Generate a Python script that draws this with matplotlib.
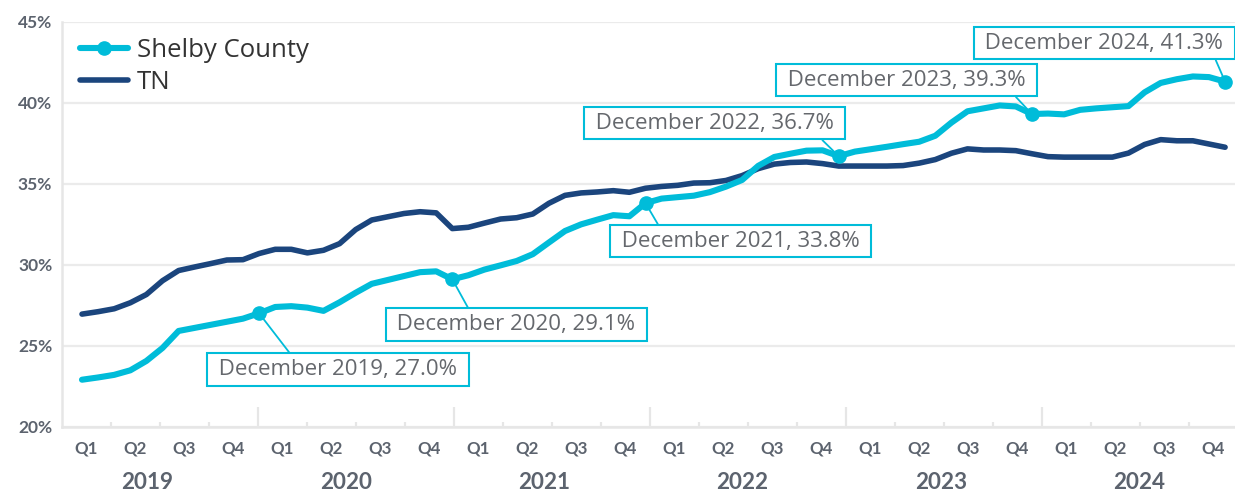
import matplotlib
matplotlib.use("Agg")
import matplotlib.pyplot as plt
from matplotlib.lines import Line2D
from matplotlib.transforms import blended_transform_factory

# ---------------- data ----------------
years = [2019, 2020, 2021, 2022, 2023, 2024]
quarters = ["Q1", "Q2", "Q3", "Q4"]

# monthly values, Jan 2019 .. Dec 2024 (percent)
shelby = [22.90, 23.04, 23.20, 23.48, 24.06, 24.86, 25.91, 26.10, 26.29, 26.48, 26.67, 27.00,
          27.39, 27.44, 27.35, 27.15, 27.68, 28.27, 28.82, 29.06, 29.30, 29.54, 29.59, 29.10,
          29.35, 29.70, 29.96, 30.23, 30.65, 31.37, 32.08, 32.49, 32.78, 33.06, 32.99, 33.80,
          34.08, 34.17, 34.26, 34.48, 34.82, 35.23, 36.10, 36.65, 36.85, 37.04, 37.06, 36.70,
          36.98, 37.13, 37.28, 37.44, 37.59, 37.96, 38.77, 39.47, 39.65, 39.83, 39.77, 39.30,
          39.33, 39.28, 39.56, 39.65, 39.72, 39.79, 40.64, 41.22, 41.45, 41.62, 41.58, 41.30]

tn = [26.95, 27.10, 27.28, 27.65, 28.16, 29.01, 29.64, 29.86, 30.07, 30.29, 30.31, 30.69,
      30.95, 30.95, 30.73, 30.89, 31.30, 32.17, 32.76, 32.96, 33.16, 33.27, 33.20, 32.23,
      32.31, 32.57, 32.82, 32.90, 33.13, 33.79, 34.28, 34.43, 34.49, 34.57, 34.47, 34.72,
      34.83, 34.90, 35.04, 35.06, 35.20, 35.50, 35.93, 36.21, 36.31, 36.34, 36.24, 36.09,
      36.09, 36.09, 36.09, 36.12, 36.27, 36.49, 36.88, 37.15, 37.08, 37.08, 37.04, 36.85,
      36.67, 36.64, 36.64, 36.64, 36.64, 36.89, 37.42, 37.72, 37.65, 37.65, 37.45, 37.25]

series_names = ["Shelby County", "TN"]
y_ticks = [20, 25, 30, 35, 40, 45]

# ---------------- style ----------------
CYAN = "#00bcd9"
NAVY = "#1b457d"
GRID = "#ebebeb"
TICKC = "#5c636e"
ANNC = "#65686d"

W, H = 1235, 493
fig = plt.figure(figsize=(W / 100, H / 100), dpi=100)
ax_l, ax_r, ax_t, ax_b = 62, 1235, 21.7, 426.7
ax = fig.add_axes([ax_l / W, 1 - ax_b / H, (ax_r - ax_l) / W, (ax_b - ax_t) / H])

# month index -> pixel mapping used for layout
X0, DX = 82.0, 16.1
def px2u(px):
    return (px - X0) / DX

x = list(range(len(shelby)))
ax.plot(x, tn, color=NAVY, lw=4.0, solid_capstyle="round", solid_joinstyle="round", zorder=3)
ax.plot(x, shelby, color=CYAN, lw=4.4, solid_capstyle="round", solid_joinstyle="round", zorder=4)

ax.set_xlim(px2u(ax_l), px2u(ax_r))
ax.set_ylim(20, 45)

# y axis
ax.set_yticks(y_ticks)
ax.set_yticklabels([f"{v}%" for v in y_ticks], fontfamily="Lato", fontweight="bold",
                   fontsize=12.5, color=TICKC)
ax.tick_params(axis="y", length=0, pad=7)
ax.yaxis.grid(True, color=GRID, lw=1.6)
ax.set_axisbelow(True)

for s in ["top", "right"]:
    ax.spines[s].set_visible(False)
for s in ["left", "bottom"]:
    ax.spines[s].set_color("#e6e6e6")
    ax.spines[s].set_linewidth(1.8)

# x axis: year boundaries (major) and quarter boundaries (minor)
QPX = 49.0
n_q = len(years) * 4
ax.set_xticks([px2u(ax_l + QPX * 4 * k) for k in range(1, len(years))])
ax.set_xticks([px2u(ax_l + QPX * q) for q in range(1, n_q) if q % 4], minor=True)
ax.tick_params(axis="x", which="major", direction="in", length=14.5, width=1.6,
               color="#e6e6e6", labelbottom=False)
ax.tick_params(axis="x", which="minor", direction="in", length=3.8, width=1.6,
               color="#e6e6e6", labelbottom=False)

tr = blended_transform_factory(ax.transData, ax.transAxes)
axh = ax_b - ax_t
for q in range(n_q):
    ax.text(px2u(ax_l + QPX * (q + 0.5)), -21.5 / axh, quarters[q % 4], transform=tr,
            ha="center", va="center", fontfamily="Lato", fontweight="bold",
            fontsize=12.2, color=TICKC)
for k, yr in enumerate(years):
    ax.text(px2u(147.5 + 198.3 * k), -55.5 / axh, str(yr), transform=tr,
            ha="center", va="center", fontfamily="Lato", fontweight="bold",
            fontsize=16.2, color=TICKC)

# callouts: December of each year
offsets = [(79, -56), (64, -45), (95, -38), (-124, 33), (-125, 34), (-121, 38.5)]
relpos = [(0.324, 1), (0.32, 1), (0.184, 1), (0.905, 0), (0.913, 0), (0.936, 0)]
for k, yr in enumerate(years):
    i = k * 12 + 11
    v = shelby[i]
    ax.plot([i], [v], "o", ms=9.5, color=CYAN, zorder=5)
    ax.annotate(f" December {yr}, {v:.1f}% ", xy=(i, v), xytext=offsets[k],
                textcoords="offset pixels", ha="center", va="center",
                fontfamily="Open Sans", fontsize=16, color=ANNC, zorder=7,
                bbox=dict(boxstyle="square,pad=0.26", fc="white", ec=CYAN, lw=1.5),
                arrowprops=dict(arrowstyle="-", color=CYAN, lw=1.3, shrinkA=0, shrinkB=0,
                                relpos=relpos[k]))

# legend
handles = [Line2D([], [], color=CYAN, lw=4.4, marker="o", ms=9.5, solid_capstyle="round"),
           Line2D([], [], color=NAVY, lw=4.0, solid_capstyle="round")]
leg = ax.legend(handles, series_names, loc="upper left",
                bbox_to_anchor=((80 - ax_l) / (ax_r - ax_l), 1 - 16.5 / axh),
                frameon=False, borderpad=0, borderaxespad=0, handlelength=1.85,
                handletextpad=0.35, labelspacing=0.25,
                prop={"family": "Open Sans", "size": 18.5})
for t in leg.get_texts():
    t.set_color("#333333")

fig.savefig("out.png", dpi=100)
